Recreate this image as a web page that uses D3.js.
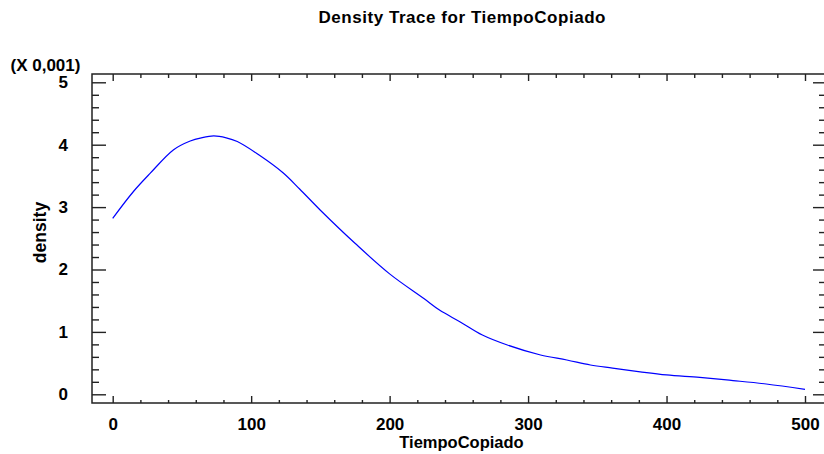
<!DOCTYPE html>
<html>
<head>
<meta charset="utf-8">
<script src="https://cdn.jsdelivr.net/npm/d3@7"></script>
<style>
  body { margin: 0; background: #fff; }
  text { font-family: "Liberation Sans", Arial, sans-serif; font-weight: bold; fill: #000; }
</style>
</head>
<body>
<div id="chartholder"></div>
<script>
// density trace values (density in units of 0.001)
var tiempo = [0, 15, 27, 44, 56, 64, 73, 82, 90, 106, 123, 135, 150, 175, 200, 225, 236, 251, 267, 285, 309, 328, 345, 361, 381, 400, 424, 448, 472, 500];
var density = [2.82, 3.25, 3.54, 3.92, 4.06, 4.11, 4.14, 4.11, 4.05, 3.83, 3.55, 3.29, 2.95, 2.42, 1.93, 1.53, 1.35, 1.16, 0.95, 0.79, 0.63, 0.55, 0.47, 0.42, 0.36, 0.31, 0.27, 0.22, 0.165, 0.08];

var xMajor = [0, 100, 200, 300, 400, 500];
var xMinor = d3.range(20, 500, 20).filter(function(v) { return v % 100 != 0; });
var yMajor = [0, 1, 2, 3, 4, 5];
var yMinor = d3.range(0.2, 5, 0.2).filter(function(v) { return Math.abs(v - Math.round(v)) > 0.01; });

var title = "Density Trace for TiempoCopiado";
var xLabel = "TiempoCopiado";
var yLabel = "density";
var yMultiplier = "(X 0,001)";

//svg
var svg = d3.select("#chartholder")
			.append("svg")
			.attr("width", 824)
			.attr("height", 454);

// frame of the plot area
var frame = {left: 92, right: 824, top: 74, bottom: 403};

var x = d3.scaleLinear().domain([0, 500]).range([112.7, 805]);
var y = d3.scaleLinear().domain([0, 5]).range([394.3, 82.3]);

var axisColor = "#222";

function styleAxis(g) {
	g.select(".domain").remove();
	g.selectAll(".tick line").attr("stroke", axisColor).attr("stroke-width", 1.4);
	g.selectAll(".tick text").attr("font-size", 17).attr("fill", "#000");
}

// bottom axis, labels + major ticks
svg.append("g")
	.attr("transform", "translate(0," + frame.bottom + ")")
	.call(d3.axisBottom(x).tickValues(xMajor).tickSizeInner(-7).tickSizeOuter(0).tickPadding(15))
	.call(styleAxis);
svg.append("g")
	.attr("transform", "translate(0," + frame.bottom + ")")
	.call(d3.axisBottom(x).tickValues(xMinor).tickSizeInner(-3).tickSizeOuter(0).tickFormat(""))
	.call(styleAxis);

// top axis (ticks only)
svg.append("g")
	.attr("transform", "translate(0," + frame.top + ")")
	.call(d3.axisTop(x).tickValues(xMajor).tickSizeInner(-7).tickSizeOuter(0).tickFormat(""))
	.call(styleAxis);
svg.append("g")
	.attr("transform", "translate(0," + frame.top + ")")
	.call(d3.axisTop(x).tickValues(xMinor).tickSizeInner(-4).tickSizeOuter(0).tickFormat(""))
	.call(styleAxis);

// left axis
svg.append("g")
	.attr("transform", "translate(" + frame.left + ",0)")
	.call(d3.axisLeft(y).tickValues(yMajor).tickSizeInner(-14).tickSizeOuter(0).tickPadding(24).tickFormat(d3.format("d")))
	.call(styleAxis);
svg.append("g")
	.attr("transform", "translate(" + frame.left + ",0)")
	.call(d3.axisLeft(y).tickValues(yMinor).tickSizeInner(-7).tickSizeOuter(0).tickFormat(""))
	.call(styleAxis);

// right axis (ticks only)
svg.append("g")
	.attr("transform", "translate(" + frame.right + ",0)")
	.call(d3.axisRight(y).tickValues(yMajor).tickSizeInner(-11).tickSizeOuter(0).tickFormat(""))
	.call(styleAxis);
svg.append("g")
	.attr("transform", "translate(" + frame.right + ",0)")
	.call(d3.axisRight(y).tickValues(yMinor).tickSizeInner(-5).tickSizeOuter(0).tickFormat(""))
	.call(styleAxis);

// frame lines
svg.append("path")
	.attr("d", "M" + frame.right + "," + frame.top + "H" + frame.left + "V" + frame.bottom + "H" + frame.right)
	.attr("fill", "none")
	.attr("stroke", axisColor)
	.attr("stroke-width", 1.5);

// the density trace
var points = tiempo.map(function(t, i) { return [t, density[i]]; });
var line = d3.line()
	.x(function(d) { return x(d[0]); })
	.y(function(d) { return y(d[1]); })
	.curve(d3.curveCatmullRom);

svg.append("path")
	.datum(points)
	.attr("d", line)
	.attr("fill", "none")
	.attr("stroke", "#0000ff")
	.attr("stroke-width", 1.2);

// texts
svg.append("text")
	.attr("x", 462)
	.attr("y", 23)
	.attr("text-anchor", "middle")
	.attr("font-size", 17)
	.attr("textLength", 287)
	.text(title);

svg.append("text")
	.attr("x", 461.5)
	.attr("y", 448)
	.attr("text-anchor", "middle")
	.attr("font-size", 16.5)
	.text(xLabel);

svg.append("text")
	.attr("transform", "translate(46,232.5) rotate(-90)")
	.attr("text-anchor", "middle")
	.attr("font-size", 17.5)
	.text(yLabel);

svg.append("text")
	.attr("x", 10.5)
	.attr("y", 71)
	.attr("font-size", 17)
	.text(yMultiplier);
</script>
</body>
</html>
